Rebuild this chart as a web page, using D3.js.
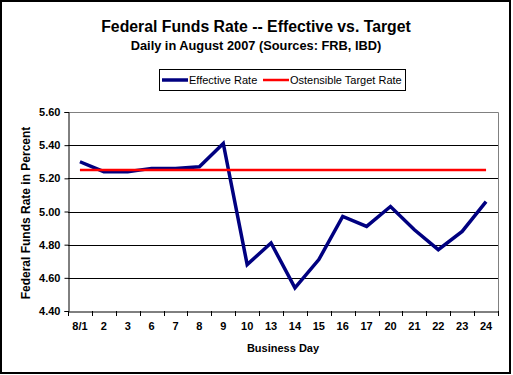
<!DOCTYPE html>
<html>
<head>
<meta charset="utf-8">
<title>Federal Funds Rate</title>
<style>
  body { margin: 0; background: #fff; }
  text { font-family: Arial, "Liberation Sans", sans-serif; }
</style>
</head>
<body>
<script src="https://cdn.jsdelivr.net/npm/d3@7"></script>
<script>
var days = ["8/1", "2", "3", "6", "7", "8", "9", "10", "13", "14", "15", "16", "17", "20", "21", "22", "23", "24"];
var effective = [5.30, 5.24, 5.24, 5.26, 5.26, 5.27, 5.41, 4.68, 4.81, 4.54, 4.71, 4.97, 4.91, 5.03, 4.89, 4.77, 4.88, 5.06];
var target = [5.25, 5.25, 5.25, 5.25, 5.25, 5.25, 5.25, 5.25, 5.25, 5.25, 5.25, 5.25, 5.25, 5.25, 5.25, 5.25, 5.25, 5.25];
var yTicks = [4.40, 4.60, 4.80, 5.00, 5.20, 5.40, 5.60];

var width = 513, height = 375;
// plot area ("top" is reserved on window, so use pl/pr/pt/pb)
var pl = 68, pr = 498, pt = 112, pb = 311;

var svg = d3.select("body").append("svg")
    .attr("width", width)
    .attr("height", height);

svg.append("rect")
    .attr("x", 1).attr("y", 1)
    .attr("width", 509).attr("height", 372)
    .attr("fill", "#fff")
    .attr("stroke", "#000")
    .attr("stroke-width", 2);

// titles
svg.append("text")
    .attr("x", 256).attr("y", 32)
    .attr("text-anchor", "middle")
    .attr("font-size", 15.8)
    .attr("font-weight", "bold")
    .text("Federal Funds Rate -- Effective vs. Target");
svg.append("text")
    .attr("x", 256).attr("y", 50)
    .attr("text-anchor", "middle")
    .attr("font-size", 12.8)
    .attr("font-weight", "bold")
    .text("Daily in August 2007 (Sources: FRB, IBD)");

var x = d3.scaleBand().domain(days).range([pl, pr]);
var y = d3.scaleLinear().domain([4.4, 5.6]).range([pb, pt]);

// grid lines
svg.selectAll(".grid")
    .data(yTicks.slice(1, -1))
    .enter().append("line")
    .attr("x1", pl).attr("x2", pr)
    .attr("y1", function (d) { return Math.round(y(d)) + 0.5; })
    .attr("y2", function (d) { return Math.round(y(d)) + 0.5; })
    .attr("stroke", "#000");

// plot border (top and right gray)
svg.append("path")
    .attr("d", "M" + pl + "," + (pt + 0.5) + "H" + (pr + 0.5) + "V" + pb)
    .attr("fill", "none")
    .attr("stroke", "#808080");

// y axis
var yAxis = d3.axisLeft(y).tickValues(yTicks).tickSize(4)
    .tickFormat(d3.format(".2f"));
var gy = svg.append("g")
    .attr("transform", "translate(" + (pl + 0.5) + ",0)")
    .call(yAxis);
gy.selectAll("text")
    .attr("font-size", 11)
    .attr("font-weight", "bold")
    .attr("font-family", "Arial, 'Liberation Sans', sans-serif")
    .attr("x", -8);

// x axis
var xAxis = d3.axisBottom(x).tickSize(0);
var gx = svg.append("g")
    .attr("transform", "translate(0," + (pb + 0.5) + ")")
    .call(xAxis);
gx.selectAll("text")
    .attr("font-size", 11)
    .attr("font-weight", "bold")
    .attr("font-family", "Arial, 'Liberation Sans', sans-serif")
    .attr("y", 11);
svg.selectAll("path.domain").attr("stroke", "#000");

// x tick marks at category boundaries
var bounds = days.map(function (d) { return x(d); }).concat([pr]);
svg.selectAll(".xtick")
    .data(bounds)
    .enter().append("line")
    .attr("x1", function (d) { return Math.round(d) + 0.5; })
    .attr("x2", function (d) { return Math.round(d) + 0.5; })
    .attr("y1", pb).attr("y2", pb + 5)
    .attr("stroke", "#000");

// axis titles
svg.append("text")
    .attr("transform", "translate(30,213) rotate(-90)")
    .attr("text-anchor", "middle")
    .attr("font-size", 12)
    .attr("font-weight", "bold")
    .text("Federal Funds Rate in Percent");
svg.append("text")
    .attr("x", 283).attr("y", 352)
    .attr("text-anchor", "middle")
    .attr("font-size", 11)
    .attr("font-weight", "bold")
    .text("Business Day");

var cx = function (d, i) { return x(days[i]) + x.bandwidth() / 2; };

var line = d3.line()
    .x(function (d, i) { return cx(d, i); })
    .y(function (d) { return y(d); });

svg.append("path")
    .datum(effective)
    .attr("d", line)
    .attr("fill", "none")
    .attr("stroke", "#000080")
    .attr("stroke-width", 3.5)
    .attr("stroke-linejoin", "miter");

// target drawn over the effective line, as in the original
svg.append("path")
    .datum(target)
    .attr("d", line)
    .attr("fill", "none")
    .attr("stroke", "#ff0000")
    .attr("stroke-width", 2.5);

// legend
var lg = svg.append("g");
lg.append("rect")
    .attr("x", 159.5).attr("y", 69.5)
    .attr("width", 246).attr("height", 21)
    .attr("fill", "#fff")
    .attr("stroke", "#000");
var legendItems = [
    { name: "Effective Rate", color: "#000080", w: 3.5, x: 162 },
    { name: "Ostensible Target Rate", color: "#ff0000", w: 2.5, x: 263 }
];
legendItems.forEach(function (it) {
    lg.append("line")
        .attr("x1", it.x).attr("x2", it.x + 26)
        .attr("y1", 80).attr("y2", 80)
        .attr("stroke", it.color)
        .attr("stroke-width", it.w);
    lg.append("text")
        .attr("x", it.x + 27).attr("y", 84)
        .attr("font-size", 11)
        .text(it.name);
});
</script>
</body>
</html>
